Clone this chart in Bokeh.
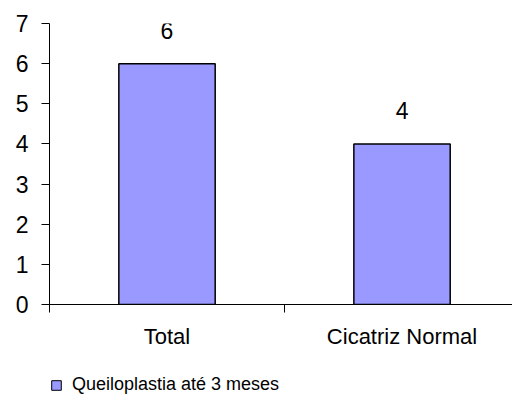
from bokeh.plotting import figure
from bokeh.layouts import column
from bokeh.models import (Range1d, FixedTicker, LinearAxis, LabelSet, ColumnDataSource,
                          Legend, LegendItem)
from bokeh.core.properties import value
from bokeh.embed import file_html
from bokeh.resources import INLINE

categories = ["Total", "Cicatriz Normal"]
values = [6, 4]
series_name = "Queiloplastia até 3 meses"
y_ticks = [0, 1, 2, 3, 4, 5, 6, 7]

FONT = "Liberation Sans"
BAR_FILL = "#9999FF"
xs = [i + 0.5 for i in range(len(categories))]

src = ColumnDataSource(dict(x=xs, top=values, label=[str(v) for v in values]))

p = figure(width=512, height=365, output_backend="svg", toolbar_location=None,
           x_range=Range1d(0, 1.97), y_range=Range1d(0, 7),
           x_axis_type=None, y_axis_type=None,
           min_border_left=49, min_border_right=0, min_border_top=23, min_border_bottom=61)
p.outline_line_color = None
p.xgrid.visible = False
p.ygrid.visible = False

bars = p.vbar(x="x", top="top", width=0.41, bottom=0, source=src,
              fill_color=BAR_FILL, line_color="black", line_width=1.5)

# y axis
yax = LinearAxis(ticker=FixedTicker(ticks=y_ticks))
yax.major_tick_out = 8
yax.major_tick_in = 0
yax.minor_tick_line_color = None
yax.major_label_text_font = FONT
yax.major_label_text_font_size = "23px"
yax.major_label_text_color = "black"
yax.major_label_standoff = 13
yax.axis_line_color = "black"
yax.major_tick_line_color = "black"
p.add_layout(yax, "left")

# x axis with boundary ticks
xtick = LinearAxis(ticker=FixedTicker(ticks=[0, 1, 2]),
                   major_label_overrides={0: "", 1: "", 2: ""})
xtick.major_tick_out = 8
xtick.major_tick_in = 0
xtick.minor_tick_line_color = None
xtick.major_label_text_font_size = "2px"
xtick.major_label_standoff = 0
xtick.axis_line_color = "black"
xtick.major_tick_line_color = "black"
p.add_layout(xtick, "below")

# x category labels
xlab = LinearAxis(ticker=FixedTicker(ticks=xs),
                  major_label_overrides={x: c for x, c in zip(xs, categories)})
xlab.axis_line_color = None
xlab.major_tick_line_color = None
xlab.minor_tick_line_color = None
xlab.major_tick_out = 0
xlab.major_tick_in = 0
xlab.major_label_text_font = FONT
xlab.major_label_text_font_size = "22px"
xlab.major_label_text_color = "black"
xlab.major_label_standoff = 11
p.add_layout(xlab, "below")

labels = LabelSet(x="x", y="top", text="label", source=src, text_align="center",
                  text_baseline="alphabetic", y_offset=25, text_font=value(FONT),
                  text_font_size=value("23px"), text_color="black")
p.add_layout(labels)

# legend in its own strip below the chart; the proxy bars sit outside its view
lf = figure(width=512, height=35, output_backend="svg", toolbar_location=None,
            x_range=Range1d(-3, -2), y_range=Range1d(20, 21),
            x_axis_type=None, y_axis_type=None,
            min_border_left=0, min_border_right=0, min_border_top=0, min_border_bottom=0)
lf.outline_line_color = None
lf.xgrid.visible = False
lf.ygrid.visible = False
proxy = lf.vbar(x="x", top="top", width=0.41, bottom=0, source=src,
                fill_color=BAR_FILL, line_color="black", line_width=1)
legend = Legend(items=[LegendItem(label=series_name, renderers=[proxy], index=0)],
                location=(1, 5),
                label_text_font=FONT, label_text_font_size="18px",
                label_text_color="black",
                glyph_width=12, glyph_height=12, padding=0, margin=0,
                border_line_color=None, background_fill_alpha=0, label_standoff=10)
lf.add_layout(legend, "center")

layout = column(p, lf, spacing=0)
open("out.html", "w").write(file_html(layout, INLINE))
